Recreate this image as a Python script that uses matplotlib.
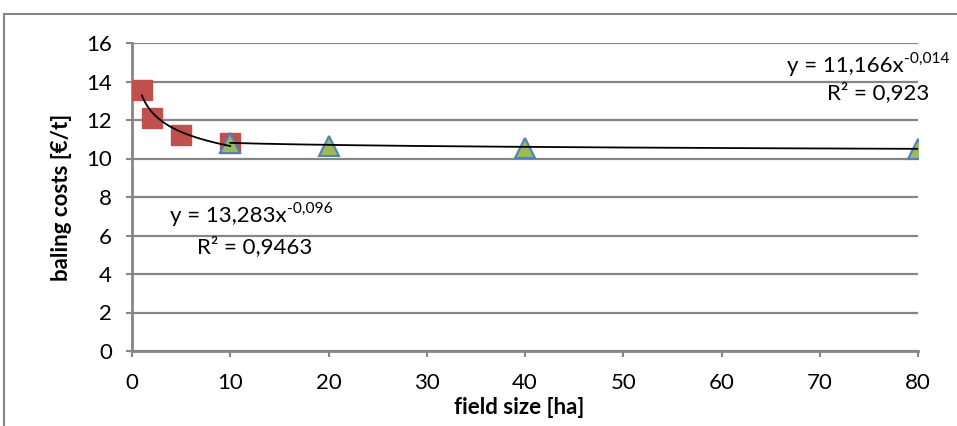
import numpy as np
import matplotlib
matplotlib.use("Agg")
import matplotlib.pyplot as plt
from matplotlib.patches import Rectangle

# baling cost data
small_x = [1, 2, 5, 10]
small_y = [13.56, 12.1, 11.2, 10.8]
large_x = [10, 20, 40, 80]
large_y = [10.8, 10.67, 10.52, 10.5]

# power trendlines y = a * x^b, as printed on the chart
fit_small = (13.283, -0.096)
fit_large = (11.166, -0.014)
r2_small = "0,9463"
r2_large = "0,923"

xticks = [0, 10, 20, 30, 40, 50, 60, 70, 80]
yticks = [0, 2, 4, 6, 8, 10, 12, 14, 16]

GRAY = "#868686"
plt.rcParams['font.family'] = ['Lato', 'DejaVu Sans']
FS = 16

fig = plt.figure(figsize=(9.57, 4.26), dpi=100)
ax = fig.add_axes([132 / 957, 1 - 351 / 426, (918 - 132) / 957, (351 - 43) / 426])

# outer chart border (runs off the right/bottom edge)
fig.patches.append(Rectangle((4 / 957, -0.1), 1.2, 1 - 14 / 426 + 0.1,
                             transform=fig.transFigure, fill=False,
                             edgecolor=GRAY, lw=1.5))

ax.set_xlim(0, 80)
ax.set_ylim(0, 16)
ax.set_xticks(xticks)
ax.set_yticks(yticks)
ax.yaxis.grid(True, color=GRAY, lw=1.6)
ax.set_axisbelow(True)
for s in ["top", "right"]:
    ax.spines[s].set_visible(False)
for s in ["left", "bottom"]:
    ax.spines[s].set_color(GRAY)
    ax.spines[s].set_linewidth(2)
ax.tick_params(axis="both", colors=GRAY, length=4.5, width=1.5, labelcolor="black",
               labelsize=FS)
ax.tick_params(axis="x", pad=11)
ax.tick_params(axis="y", pad=10)

# data
ax.plot(small_x, small_y, ls="none", marker="s", ms=14.5, mfc="#C0504D",
        mec="#C0504D", zorder=3)
ax.plot(large_x, large_y, ls="none", marker="^", ms=15, mfc="#9BBB59",
        mec="#4F81BD", mew=1.5, zorder=4)

# trendlines
xs = np.linspace(min(small_x), max(small_x), 200)
ax.plot(xs, fit_small[0] * xs ** fit_small[1], color="black", lw=1.3, zorder=5)
xl = np.linspace(min(large_x), max(large_x), 200)
ax.plot(xl, fit_large[0] * xl ** fit_large[1], color="black", lw=1.3, zorder=5)

ax.set_xlabel("field size [ha]", fontsize=FS, fontweight="bold")
ax.xaxis.set_label_coords((519 - 132) / (918 - 132), -(397 - 351) / 308)
ax.set_ylabel("baling costs [€/t]", fontsize=FS, fontweight="bold")
ax.yaxis.set_label_coords(-(132 - 72) / 786, 0.5)


def eq_text(x, y, a, b):
    # main part plus raised exponent, placed next to each other in pixels
    t = fig.text(x / 957, 1 - y / 426, f"y = {a:.3f}x".replace(".", ","),
                 fontsize=FS, va="baseline")
    fig.canvas.draw()
    bb = t.get_window_extent()
    fig.text(bb.x1 / 957, (1 - y / 426) + 9 / 426,
             f"{b:.3f}".replace(".", ","), fontsize=FS * 0.7, va="baseline")


eq_text(787, 72, *fit_large)
fig.text(929 / 957, 1 - 99 / 426, "R² = " + r2_large, fontsize=FS,
         ha="right", va="baseline")
eq_text(170, 222, *fit_small)
fig.text(197 / 957, 1 - 253 / 426, "R² = " + r2_small, fontsize=FS,
         va="baseline")

fig.savefig("out.png", dpi=100)
